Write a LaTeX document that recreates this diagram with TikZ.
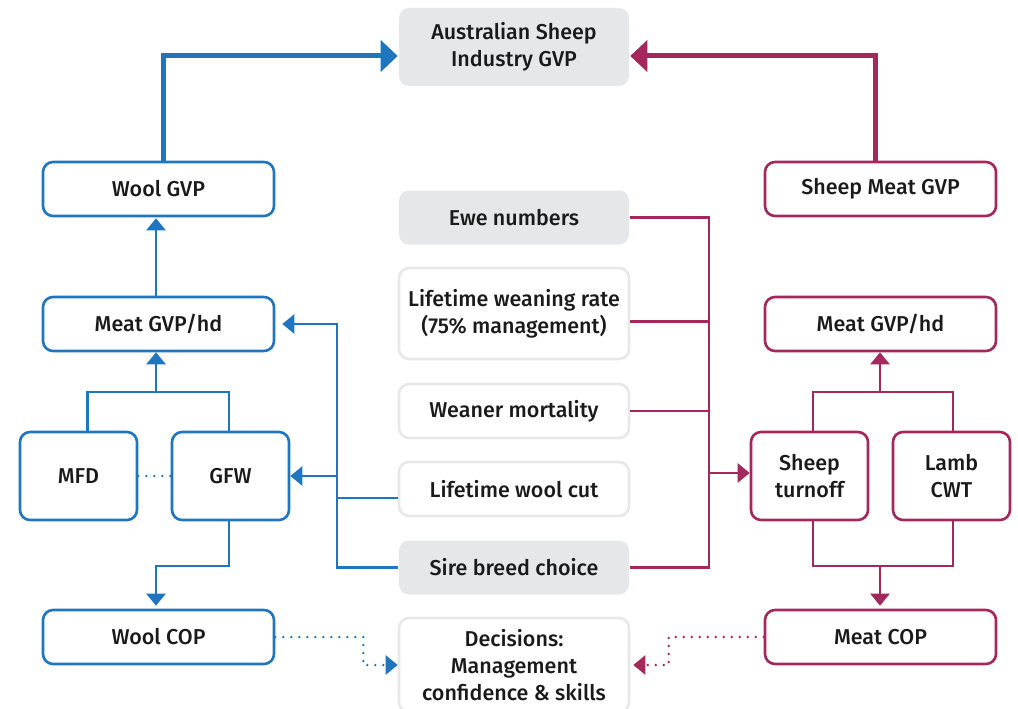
\documentclass[tikz,border=0pt]{standalone}
\usepackage{fontspec}
\setmainfont{Fira Sans}[UprightFont=* Medium]
\usetikzlibrary{arrows.meta, positioning}

\definecolor{woolblue}{HTML}{1F76BE}
\definecolor{meatred}{HTML}{A5285C}
\definecolor{boxgrey}{HTML}{E6E7E8}
\definecolor{edgegrey}{HTML}{E8E8E8}
\definecolor{inkgrey}{HTML}{1A1A1A}

\begin{document}
\begin{tikzpicture}[
    x=1pt, y=-1pt,
    font=\fontsize{21.5}{27}\selectfont,
    text=inkgrey,
    box/.style={draw, rounded corners=10pt, line width=2.6pt, minimum width=231pt, minimum height=54pt, align=center},
    woolbox/.style={box, draw=woolblue},
    meatbox/.style={box, draw=meatred},
    smallwool/.style={woolbox, minimum width=117pt, minimum height=88pt},
    smallmeat/.style={meatbox, minimum width=117pt, minimum height=88pt},
    driver/.style={box, draw=edgegrey, minimum width=230pt},
    fixed/.style={driver, draw=none, fill=boxgrey},
    wline/.style={woolblue, line width=2.6pt},
    mline/.style={meatred, line width=2.6pt},
    warrow/.style={wline, -{Triangle[length=12pt,width=19pt]}},
    marrow/.style={mline, -{Triangle[length=12pt,width=19pt]}},
    wtotal/.style={woolblue, line width=5pt, -{Triangle[length=17pt,width=31pt]}},
    mtotal/.style={meatred, line width=5pt, -{Triangle[length=17pt,width=31pt]}},
    dotty/.style={line cap=round, dash pattern=on 0pt off 8pt},
    wdots/.style={warrow, dotty},
    mdots/.style={marrow, dotty}
]
\useasboundingbox (0,0) rectangle (1018,709);

%-------------------------------------------------
% Industry total
%-------------------------------------------------
\node[fixed, minimum height=78pt] (total) at (514,47) {Australian Sheep\\Industry GVP};

%-------------------------------------------------
% Drivers (middle column)
%-------------------------------------------------
\node[fixed]                      (ewe)       at (514,217.5) {Ewe numbers};
\node[driver, minimum height=91pt] (weaning)  at (514,313.5) {Lifetime weaning rate\\(75\% management)};
\node[driver]                     (mortality) at (514,411)   {Weaner mortality};
\node[driver]                     (woolcut)   at (514,489)   {Lifetime wool cut};
\node[fixed]                      (sire)      at (514,567.5) {Sire breed choice};
\node[driver, minimum height=94pt] (decisions) at (514,665)  {Decisions:\\Management\\confidence \& skills};

%-------------------------------------------------
% Wool side
%-------------------------------------------------
\node[woolbox]   (woolgvp) at (158.5,189) {Wool GVP};
\node[woolbox]   (woolhd)  at (158.5,324) {Meat GVP/hd};
\node[smallwool] (mfd)     at (78.5,476)  {MFD};
\node[smallwool] (gfw)     at (230.5,476) {GFW};
\node[woolbox]   (woolcop) at (158.5,637) {Wool COP};

%-------------------------------------------------
% Meat side
%-------------------------------------------------
\node[meatbox]   (meatgvp) at (880.5,189) {Sheep Meat GVP};
\node[meatbox]   (meathd)  at (880.5,324) {Meat GVP/hd};
\node[smallmeat] (turnoff) at (809.5,476) {Sheep\\turnoff};
\node[smallmeat] (cwt)     at (951.5,476) {Lamb\\CWT};
\node[meatbox]   (meatcop) at (880.5,637) {Meat COP};

%-------------------------------------------------
% Into the industry total
%-------------------------------------------------
\draw[wtotal] ([xshift=5pt]woolgvp.north) |- ([yshift=-9pt]total.west);
\draw[mtotal] ([xshift=-5pt]meatgvp.north) |- ([yshift=-9pt]total.east);

%-------------------------------------------------
% Wool links
%-------------------------------------------------
\coordinate (wup)   at (156,392);
\coordinate (wdown) at (156,566);
\coordinate (wbus)  at (337,0);

\draw[warrow, shorten >=1pt] (woolhd.north -| wup) -- (woolgvp.south -| wup);
\draw[wline] ([xshift=9pt]mfd.north) |- (wup) -| ([xshift=-1.5pt]gfw.north);
\draw[warrow] (wup) -- (woolhd.south -| wup);
\draw[warrow, shorten >=3pt] ([xshift=-1.5pt]gfw.south) |- (wdown) -- (woolcop.north -| wdown);
\draw[wline, dotty] (mfd.east) -- (gfw.west);

\draw[warrow, shorten >=7pt] (sire.west) -| (wbus |- woolhd.east) -- (woolhd.east);
\draw[wline] ([yshift=-9pt]woolcut.west) -- ([yshift=-9pt]woolcut.west -| wbus);
\draw[warrow] (wbus |- gfw.east) -- (gfw.east);

\draw[wdots] (woolcop.east) -- ++(88,0) |- (decisions.west);

%-------------------------------------------------
% Meat links
%-------------------------------------------------
\coordinate (mup)   at (880,392);
\coordinate (mdown) at (880,566);
\coordinate (mbus)  at (709,0);

\draw[mline] ([xshift=3.5pt]turnoff.north) |- (mup) -| ([xshift=1.5pt]cwt.north);
\draw[marrow] (mup) -- (meathd.south -| mup);
\draw[mline] ([xshift=3.5pt]turnoff.south) |- (mdown) -| ([xshift=1.5pt]cwt.south);
\draw[marrow, shorten >=3pt] (mdown) -- (meatcop.north -| mdown);

\draw[mline] (ewe.east) -| (mbus |- sire.east) -- (sire.east);
\draw[mline] ([yshift=-8pt]weaning.east) -- ([yshift=-8pt]weaning.east -| mbus);
\draw[mline] (mortality.east) -- (mbus |- mortality.east);
\draw[marrow] (mbus |- 0,473) -- (turnoff.west |- 0,473);

\draw[mdots, shorten >=3pt] (meatcop.west) -- ++(-95,0) |- (decisions.east);

\end{tikzpicture}
\end{document}
